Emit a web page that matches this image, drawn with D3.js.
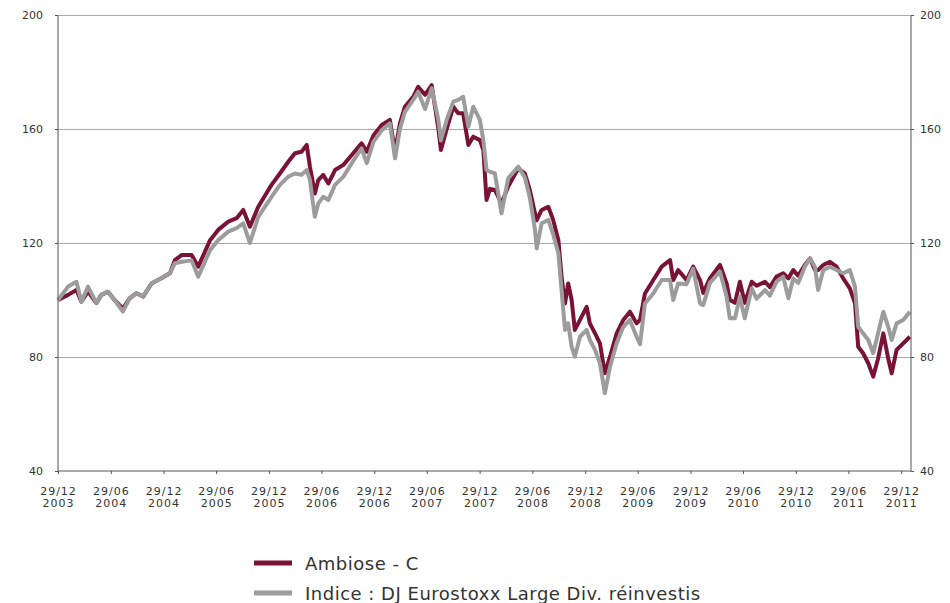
<!DOCTYPE html>
<html>
<head>
<meta charset="utf-8">
<script src="https://cdn.jsdelivr.net/npm/d3@7"></script>
<style>
  body { margin: 0; background: #fff; }
  svg { display: block; }
</style>
</head>
<body>
<svg id="chart" width="950" height="603"></svg>
<script>
const dates = [
"2003-12-29","2004-02-02","2004-03-02","2004-03-19","2004-04-11","2004-05-10","2004-05-27","2004-06-19","2004-07-12","2004-08-10",
"2004-09-02","2004-09-26","2004-10-19","2004-11-17","2004-12-21","2005-01-20","2005-02-06","2005-03-02","2005-04-05","2005-04-28",
"2005-06-08","2005-07-06","2005-08-10","2005-09-08","2005-10-01","2005-10-24","2005-11-22","2005-12-27","2006-01-07","2006-02-05",
"2006-03-06","2006-03-29","2006-04-21","2006-05-09","2006-05-20","2006-06-06","2006-06-18","2006-07-05","2006-07-23","2006-08-15",
"2006-09-13","2006-10-12","2006-11-15","2006-12-03","2006-12-26","2007-01-24","2007-02-21","2007-03-11","2007-03-28","2007-04-14",
"2007-05-13","2007-05-30","2007-06-23","2007-07-16","2007-08-08","2007-08-17","2007-09-06","2007-09-29","2007-10-16","2007-11-02",
"2007-11-20","2007-12-07","2007-12-30","2008-01-11","2008-01-22","2008-02-03","2008-02-20","2008-03-14","2008-04-06","2008-05-11",
"2008-06-03","2008-06-20","2008-07-08","2008-07-14","2008-07-31","2008-08-23","2008-09-09","2008-09-27","2008-10-08","2008-10-20",
"2008-10-31","2008-11-12","2008-11-23","2008-12-11","2009-01-03","2009-01-14","2009-02-01","2009-02-18","2009-03-07","2009-03-25",
"2009-04-17","2009-05-10","2009-06-02","2009-06-25","2009-07-07","2009-07-24","2009-08-22","2009-09-20","2009-10-19","2009-10-30",
"2009-11-16","2009-12-15","2010-01-07","2010-01-31","2010-02-11","2010-03-06","2010-04-10","2010-05-03","2010-05-14","2010-06-01",
"2010-06-18","2010-07-05","2010-07-29","2010-08-15","2010-09-13","2010-09-30","2010-10-23","2010-11-15","2010-12-03","2010-12-20",
"2011-01-06","2011-01-29","2011-02-16","2011-03-05","2011-03-16","2011-04-03","2011-04-26","2011-05-19","2011-06-11","2011-07-04",
"2011-07-22","2011-08-02","2011-08-19","2011-09-06","2011-09-23","2011-10-10","2011-10-28","2011-11-14","2011-11-26","2011-12-13",
"2012-01-05","2012-01-28"
];

const ambiose = [
100,101.8,103.5,99.4,103,98.9,101.8,102.9,100,97,
100.6,102.4,101.2,105.8,107.6,109.4,114,115.8,115.8,111.7,
121,124.6,127.5,128.7,131.6,125.7,132.7,138.6,140.4,144.4,
148.5,151.5,152,154.4,146.8,137.4,142.1,143.9,140.9,145.6,
147.4,150.9,155,152,157.7,161.4,163.2,152,162,167.8,
171.3,174.8,172,175.4,160.2,152.6,160,167.8,165.5,165.5,
154.4,157.3,156.1,152.6,135.1,139,138.6,133.9,139.8,146.2,
144.4,138.6,130.4,128,131.6,132.7,128.1,121,108.2,98.8,
105.8,100,89.5,93,97.6,91.8,88.3,84.8,74.3,80.1,
88.3,93,95.9,91.8,93,102.3,107,111.7,114,107,
110.5,107,111.7,107,102.5,107.6,112.3,105.8,100,99,
106.4,99,106.4,105,106.4,104.5,108.2,109.4,107.6,110.5,
108.5,112.3,114.6,110.5,110.5,112.3,113.4,111.7,107.6,104.1,
98.8,83.6,81.3,77.8,73.1,79.5,88.3,79.5,74.3,82.5,
84.8,87.1
];

const indice = [
100,104.7,106.4,99.4,104.7,98.9,101.8,102.9,100,95.9,
100.6,102.4,101.2,105.8,107.6,109.4,112.9,113.4,113.9,108.2,
117.5,121,124,125.2,126.9,120,129.2,134.5,136.2,140.4,
143.3,144.4,143.9,145.6,142.1,129.2,133.9,136.2,135.1,140.4,
143.3,148,153.2,148,155.5,159.6,162,149.7,160,166,
170.2,173.1,167,174.3,163.2,156,163.2,169.6,170.2,171.3,
160.8,167.8,163.2,156.1,145.6,145,144.4,130.4,142.7,146.8,
143,136,124.6,118.1,126.9,128.1,123,116.4,103.5,89.5,
91.8,83.6,80.1,87.1,89.5,86,82.5,77.8,67.3,76.6,
84.8,90.6,93,87.1,84.5,98.8,102.3,107,107,100,
105.8,105.5,111,98.8,98.2,106,110,101.2,93.6,93.6,
101.2,93.6,104.1,100.5,103.5,101.5,106.4,108.2,100.6,107.6,
106,111.7,114.6,111.7,103.5,110.5,111.7,110.5,109.4,110.5,
104.7,90.6,88.3,86,81.3,88.3,95.9,90.6,86,91.8,
93,95.9
];

const yTicks = [40, 80, 120, 160, 200];
const xTickDates = [
"2003-12-29","2004-06-29","2004-12-29","2005-06-29","2005-12-29","2006-06-29","2006-12-29","2007-06-29","2007-12-29",
"2008-06-29","2008-12-29","2009-06-29","2009-12-29","2010-06-29","2010-12-29","2011-06-29","2011-12-29"
];
const seriesNames = ["Ambiose - C", "Indice : DJ Eurostoxx Large Div. réinvestis"];
const seriesColors = ["#7a1236", "#9c9c9c"];

const parse = d3.timeParse("%Y-%m-%d");
const svg = d3.select("#chart");

const mL = 58, mR = 911, mT = 15, mB = 471;
const x = d3.scaleTime()
  .domain([parse("2003-12-29"), parse("2012-02-01")])
  .range([mL, mR]);
const y = d3.scaleLinear().domain([40, 200]).range([mB, mT]);

// gridlines
svg.append("g").selectAll("line").data(yTicks.filter(v => v !== 40)).join("line")
  .attr("x1", mL).attr("x2", mR)
  .attr("y1", d => y(d)).attr("y2", d => y(d))
  .attr("stroke", "#a8a8a8").attr("stroke-width", 1).attr("shape-rendering", "crispEdges");

// series
const line = d3.line().x(d => x(d[0])).y(d => y(d[1]));
const series = [ambiose, indice];
series.forEach((vals, i) => {
  const pts = dates.map((d, k) => [parse(d), vals[k]]);
  svg.append("path").datum(pts)
    .attr("d", line)
    .attr("fill", "none")
    .attr("stroke", seriesColors[i])
    .attr("stroke-width", 4)
    .attr("stroke-linejoin", "round");
});

// axes
const yLeft = d3.axisLeft(y).tickValues(yTicks).tickSize(3).tickPadding(12);
const yRight = d3.axisRight(y).tickValues(yTicks).tickSize(3).tickPadding(6);
const gL = svg.append("g").attr("transform", `translate(${mL},0)`).call(yLeft);
const gR = svg.append("g").attr("transform", `translate(${mR},0)`).call(yRight);
[gL, gR].forEach(g => {
  g.select(".domain").attr("stroke", "#555").attr("d", `M0,${mT}V${mB}`);
  g.selectAll(".tick line").attr("stroke", "#555");
  g.selectAll("text").attr("font-family", "'DejaVu Sans', Verdana, sans-serif")
    .attr("font-size", 11).attr("fill", "#333");
});

const xAxis = d3.axisBottom(x).tickValues(xTickDates.map(parse)).tickSize(3).tickFormat("");
const gX = svg.append("g").attr("transform", `translate(0,${mB})`).call(xAxis);
gX.select(".domain").attr("stroke", "#555").attr("d", `M${mL},0H${mR}`);
gX.selectAll(".tick line").attr("stroke", "#555");
const fmtDM = d3.timeFormat("%d/%m"), fmtYr = d3.timeFormat("%Y");
gX.selectAll(".tick").each(function(d) {
  const t = d3.select(this).append("text")
    .attr("fill", "#333")
    .attr("font-family", "'DejaVu Sans', Verdana, sans-serif")
    .attr("font-size", 11)
    .attr("letter-spacing", 1)
    .attr("text-anchor", "middle");
  t.append("tspan").attr("x", 0).attr("y", 24).text(fmtDM(d));
  t.append("tspan").attr("x", 0).attr("y", 36).text(fmtYr(d));
});

// top border (200 gridline)
svg.append("line").attr("x1", mL).attr("x2", mR).attr("y1", mT).attr("y2", mT)
  .attr("stroke", "#a8a8a8").attr("shape-rendering", "crispEdges");

// legend
const lg = svg.append("g");
seriesNames.forEach((name, i) => {
  const cy = 563 + i * 30;
  lg.append("line").attr("x1", 254).attr("x2", 292).attr("y1", cy).attr("y2", cy)
    .attr("stroke", seriesColors[i]).attr("stroke-width", 5);
  lg.append("text").attr("x", 305).attr("y", cy + 6.5)
    .attr("font-family", "'DejaVu Sans', Verdana, sans-serif")
    .attr("font-size", 18).attr("letter-spacing", 0.5).attr("fill", "#333").text(name);
});
</script>
</body>
</html>
